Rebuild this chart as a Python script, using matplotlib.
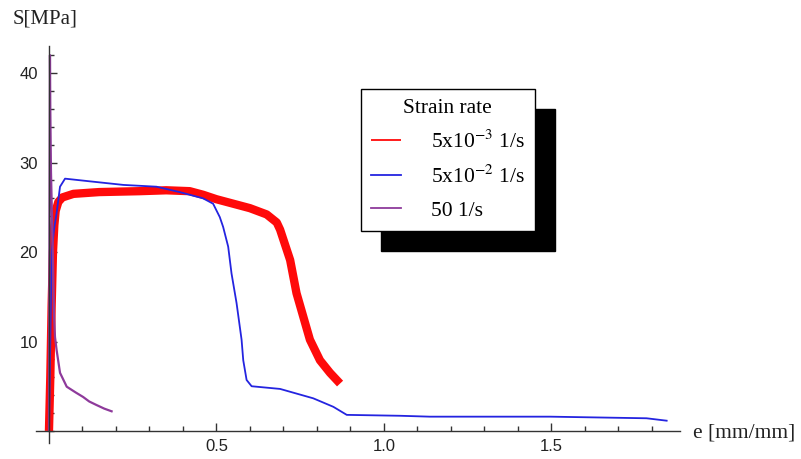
import matplotlib
matplotlib.use('Agg')
import matplotlib.pyplot as plt
from matplotlib.ticker import MultipleLocator, FixedLocator

# 5x10^-3 1/s
red_x = [0.0, 0.004, 0.008, 0.012, 0.016, 0.02, 0.028, 0.04, 0.073, 0.15, 0.27, 0.35, 0.42,
         0.46, 0.5, 0.55, 0.6, 0.65, 0.68, 0.69, 0.72, 0.739, 0.759, 0.779, 0.809, 0.839, 0.869]
red_y = [0.0, 6.0, 14.0, 20.0, 23.0, 24.6, 25.6, 26.1, 26.5, 26.7, 26.8, 26.9, 26.8,
         26.4, 25.9, 25.4, 24.9, 24.2, 23.3, 22.5, 19.1, 15.4, 12.8, 10.2, 7.9, 6.5, 5.3]

# 5x10^-2 1/s
blue_x = [0.0, 0.004, 0.008, 0.015, 0.023, 0.033, 0.048, 0.122, 0.222, 0.321, 0.39, 0.46, 0.49,
          0.51, 0.52, 0.535, 0.545, 0.56, 0.575, 0.58, 0.59, 0.605, 0.69, 0.789, 0.849, 0.889,
          1.048, 1.137, 1.496, 1.784, 1.844]
blue_y = [0.0, 10.0, 19.9, 22.5, 24.4, 27.3, 28.2, 27.9, 27.5, 27.3, 26.7, 26.0, 25.4,
          23.9, 22.8, 20.6, 17.6, 14.3, 10.2, 7.9, 5.7, 5.0, 4.7, 3.65, 2.7, 1.8,
          1.7, 1.6, 1.6, 1.42, 1.15]

# 50 1/s
purple_x = [0.0, 0.001, 0.002, 0.003, 0.004, 0.006, 0.009, 0.012, 0.015, 0.018, 0.023, 0.033,
            0.053, 0.08, 0.102, 0.12, 0.142, 0.165, 0.187]
purple_y = [0.0, 12.0, 28.0, 42.0, 36.0, 29.0, 24.0, 19.0, 13.0, 10.5, 9.0, 6.5,
            4.95, 4.3, 3.8, 3.3, 2.9, 2.5, 2.2]

legend_labels = [r'5x10$^{-3}$ 1/s', r'5x10$^{-2}$ 1/s', '50 1/s']
x_major = [0.5, 1.0, 1.5]
y_major = [10, 20, 30, 40]

plt.rcParams['font.family'] = ['Liberation Serif', 'DejaVu Serif']
plt.rcParams['mathtext.fontset'] = 'stix'

fig = plt.figure(figsize=(8.01, 4.59), dpi=100)
ax = fig.add_axes([0.0444, 0.0357, 0.8042, 0.8636])

ax.plot(red_x, red_y, color='#ff0a0a', lw=6, solid_joinstyle='round', solid_capstyle='butt',
        label=legend_labels[0])
ax.plot(blue_x, blue_y, color='#2424e0', lw=1.3, label=legend_labels[1])
ax.plot(purple_x, purple_y, color='#8e3a9b', lw=1.6, label=legend_labels[2])

ax.set_xlim(-0.04, 1.883)
ax.set_ylim(-1.3, 43.0)

# Mathematica風の軸
for side in ['top', 'right']:
    ax.spines[side].set_visible(False)
for side in ['left', 'bottom']:
    ax.spines[side].set_position(('data', 0))
    ax.spines[side].set_color('#333333')
    ax.spines[side].set_linewidth(1.0)

ax.xaxis.set_major_locator(FixedLocator(x_major))
ax.xaxis.set_minor_locator(MultipleLocator(0.1))
ax.yaxis.set_major_locator(FixedLocator(y_major))
ax.yaxis.set_minor_locator(MultipleLocator(2))
ax.tick_params(which='both', direction='in', color='#333333', width=1.0)
ax.tick_params(which='major', length=6)
ax.tick_params(which='minor', length=3.5)
ax.tick_params(axis='x', which='major', pad=6)
ax.tick_params(axis='y', which='major', pad=8)
for lab in ax.get_xticklabels() + ax.get_yticklabels():
    lab.set_family('Liberation Sans')
    lab.set_fontsize(12)
    lab.set_color('#222222')
ax.xaxis.set_major_formatter(plt.FuncFormatter(lambda v, p: '%.1f' % v))

fig.text(13 / 801, 1 - 19 / 459, 'S[MPa]', fontsize=15, va='center', ha='left', color='#222222')
fig.text(693 / 801, 1 - 433 / 459, 'e [mm/mm]', fontsize=15.5, va='center', ha='left', color='#222222')

leg = ax.legend(title='Strain rate', loc='upper left',
                bbox_to_anchor=(361 / 801, 1 - 89 / 459), bbox_transform=fig.transFigure,
                borderaxespad=0, fontsize=15.5, title_fontsize=15.5,
                handlelength=1.4, handletextpad=1.4, borderpad=0.45, labelspacing=0.6,
                fancybox=False, framealpha=1, edgecolor='black',
                shadow={'ox': 14.4, 'oy': -14.4, 'color': 'black', 'alpha': 1})
leg.get_frame().set_linewidth(1.0)
for line in leg.get_lines():
    line.set_linewidth(1.3)

plt.savefig('out.png', dpi=100)
plt.close()
